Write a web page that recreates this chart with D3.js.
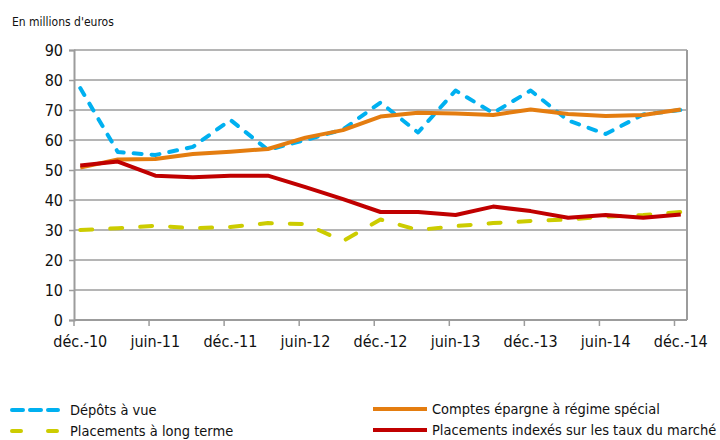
<!DOCTYPE html>
<html>
<head>
<meta charset="utf-8">
<script src="https://cdn.jsdelivr.net/npm/d3@7/dist/d3.min.js"></script>
<style>
  body { margin: 0; background: #fff; }
  svg { display: block; }
  text { font-family: "DejaVu Sans Condensed", "DejaVu Sans", sans-serif; fill: #111; }
</style>
</head>
<body>
<div id="chart"></div>
<script>
// Data (quarterly, déc.-10 -> déc.-14)
var quarters = ["déc.-10", "mars-11", "juin-11", "sept.-11", "déc.-11", "mars-12", "juin-12", "sept.-12", "déc.-12",
                "mars-13", "juin-13", "sept.-13", "déc.-13", "mars-14", "juin-14", "sept.-14", "déc.-14"];
var tickLabels = ["déc.-10", "juin-11", "déc.-11", "juin-12", "déc.-12", "juin-13", "déc.-13", "juin-14", "déc.-14"];
var depotsVue = [77.3, 56, 55, 57.7, 66.7, 56.7, 60, 63.5, 72.5, 62.5, 76.5, 69, 76.5, 66.5, 62, 68.5, 70];
var comptesEpargne = [50.8, 53.5, 53.7, 55.3, 56.1, 57, 60.8, 63.3, 67.8, 69.1, 68.8, 68.3, 70.2, 68.7, 68, 68.3, 70.2];
var placementsLong = [30, 30.6, 31.4, 30.6, 31, 32.3, 32, 26.3, 33.5, 30, 31.3, 32.3, 33, 33.5, 34.5, 35, 36];
var placementsIndexes = [51.5, 52.8, 48.1, 47.6, 48.1, 48.1, 44.3, 40.3, 36, 36, 35, 37.8, 36.3, 34.1, 35, 34.1, 35.2];
var yTicks = [0, 10, 20, 30, 40, 50, 60, 70, 80, 90];

var series = [
    { name: "Dépôts à vue", values: depotsVue, color: "#00b0f0", dash: "8,10" },
    { name: "Comptes épargne à régime spécial", values: comptesEpargne, color: "#e47d10", dash: null },
    { name: "Placements à long terme", values: placementsLong, color: "#cccc00", dash: "12,18" },
    { name: "Placements indexés sur les taux du marché", values: placementsIndexes, color: "#c00000", dash: null }
];

var width = 720;
var height = 440;
var margin = { top: 50, right: 33, bottom: 120, left: 74 };
var grid = "#9c9c9c";

var svg = d3.select('#chart')
    .append('svg')
    .attr('width', width)
    .attr('height', height);

// month slots (date axis, one band per month)
var months = d3.range((quarters.length - 1) * 3 + 1);
var xScale = d3.scaleBand()
    .domain(months)
    .range([margin.left, width - margin.right])
    .padding(0);

var yScale = d3.scaleLinear()
    .domain([0, 90])
    .range([height - margin.bottom, margin.top]);

var xPos = (d, i) => xScale(i * 3) + xScale.bandwidth() / 2;

// gridlines
svg.append('g')
    .selectAll('line')
    .data(yTicks)
    .enter()
    .append('line')
    .attr('x1', margin.left)
    .attr('x2', width - margin.right)
    .attr('y1', d => yScale(d))
    .attr('y2', d => yScale(d))
    .attr('stroke', grid)
    .attr('stroke-width', 1.5);

// right border
svg.append('line')
    .attr('x1', width - margin.right)
    .attr('x2', width - margin.right)
    .attr('y1', margin.top)
    .attr('y2', yScale(0))
    .attr('stroke', grid)
    .attr('stroke-width', 2);

// y axis
var yAxis = d3.axisLeft(yScale).tickValues(yTicks).tickSize(5).tickPadding(6);
var yG = svg.append('g')
    .attr('transform', 'translate(' + margin.left + ',0)')
    .call(yAxis);
yG.select('.domain').attr('stroke', grid).attr('stroke-width', 2);
yG.selectAll('.tick line').attr('stroke', grid).attr('stroke-width', 1.5);
yG.selectAll('.tick text').style('font-size', '16px').attr('fill', '#111');

// x axis: ticks at slot starts, labels centred on the slot
var xTickMonths = tickLabels.map((d, i) => i * 6);
var xG = svg.append('g')
    .attr('transform', 'translate(0,' + yScale(0) + ')');
xG.append('line')
    .attr('x1', margin.left)
    .attr('x2', width - margin.right)
    .attr('stroke', grid)
    .attr('stroke-width', 2);
xG.selectAll('.xtick')
    .data(xTickMonths)
    .enter()
    .append('line')
    .attr('class', 'xtick')
    .attr('x1', d => xScale(d))
    .attr('x2', d => xScale(d))
    .attr('y1', 0)
    .attr('y2', 6)
    .attr('stroke', grid)
    .attr('stroke-width', 1.5);
xG.selectAll('.xlabel')
    .data(tickLabels)
    .enter()
    .append('text')
    .attr('class', 'xlabel')
    .attr('x', (d, i) => xScale(xTickMonths[i]) + xScale.bandwidth() / 2)
    .attr('y', 27)
    .attr('text-anchor', 'middle')
    .style('font-size', '16px')
    .text(d => d);

// lines
var line = d3.line()
    .x(xPos)
    .y(d => yScale(d));

svg.append('g')
    .selectAll('path')
    .data(series)
    .enter()
    .append('path')
    .attr('d', d => line(d.values))
    .attr('fill', 'none')
    .attr('stroke', d => d.color)
    .attr('stroke-width', 4)
    .attr('stroke-linejoin', 'round')
    .attr('stroke-linecap', d => d.dash ? 'round' : 'butt')
    .attr('stroke-dasharray', d => d.dash);

// unit label
svg.append('text')
    .attr('x', 12)
    .attr('y', 26)
    .style('font-size', '12px')
    .text("En millions d'euros");

// legend
var legendPos = [[12, 410], [373, 409], [12, 431], [373, 430]];
var legend = svg.append('g')
    .selectAll('g')
    .data(series)
    .enter()
    .append('g')
    .attr('transform', (d, i) => 'translate(' + legendPos[i][0] + ',' + legendPos[i][1] + ')');
legend.append('line')
    .attr('x1', 0)
    .attr('x2', (d, i) => i % 2 ? 54 : 46)
    .attr('stroke', d => d.color)
    .attr('stroke-width', 4)
    .attr('stroke-linecap', d => d.dash ? 'round' : 'butt')
    .attr('stroke-dasharray', (d, i) => i === 0 ? "11,7" : (i === 2 ? "9,27" : null));
legend.append('text')
    .attr('x', (d, i) => i % 2 ? 59 : 58)
    .attr('y', 5)
    .style('font-size', '14.5px')
    .text(d => d.name);
</script>
</body>
</html>
